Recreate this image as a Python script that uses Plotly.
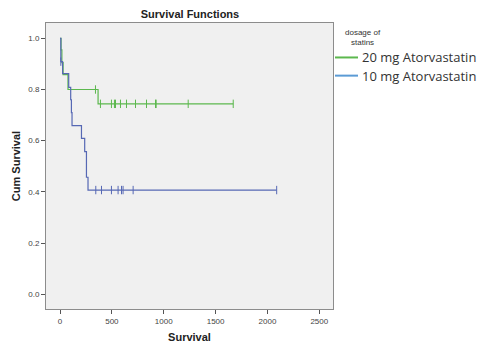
import numpy as np
import plotly.graph_objects as go

# ---- data ----
green_name = "20 mg Atorvastatin"
green_times = [0, 10, 18, 30, 77, 367]
green_surv = [1.0, 0.955, 0.905, 0.858, 0.80, 0.744]
green_censor = [342, 390, 496, 525, 535, 583, 641, 728, 834, 921, 927, 1236, 1670]

blue_name = "10 mg Atorvastatin"
blue_times = [0, 8, 25, 84, 103, 110, 116, 207, 238, 255, 270]
blue_surv = [1.0, 0.909, 0.862, 0.808, 0.760, 0.71, 0.659, 0.609, 0.557, 0.457, 0.407]
blue_censor = [8, 345, 400, 496, 560, 593, 608, 705, 2089]

x_ticks = [0, 500, 1000, 1500, 2000, 2500]
y_ticks = [0.0, 0.2, 0.4, 0.6, 0.8, 1.0]

GREEN = "#5cb84e"
BLUE_CURVE = "#5668b4"
BLUE_LEG = "#5b9bd5"


def step_value(times, surv, t):
    idx = np.searchsorted(np.array(times), t, side="right") - 1
    return surv[max(idx, 0)]


fig = go.Figure()
for times, surv, cens, col in [
    (green_times, green_surv, green_censor, GREEN),
    (blue_times, blue_surv, blue_censor, BLUE_CURVE),
]:
    end_t = max(cens[-1], times[-1])
    xs = list(times) + [end_t]
    ys = list(surv) + [surv[-1]]
    fig.add_trace(go.Scatter(x=xs, y=ys, mode="lines", line=dict(color=col, width=1.2, shape="hv"),
                             showlegend=False, hoverinfo="skip"))
    cy = [step_value(times, surv, t) for t in cens]
    fig.add_trace(go.Scatter(x=cens, y=cy, mode="markers",
                             marker=dict(symbol="line-ns-open", size=6, color=col,
                                         line=dict(color=col, width=1)),
                             showlegend=False, hoverinfo="skip"))

L, R, T, B = 46, 333, 23, 311
W, H = 486, 353


def px(p):
    return (p - L) / (R - L)


def py(q):
    return (B - q) / (B - T)


fig.update_layout(
    width=W, height=H,
    margin=dict(l=L, r=W - R, t=T, b=H - B),
    paper_bgcolor="white",
    plot_bgcolor="#f0f0f0",
    font=dict(family="Arial, Liberation Sans, sans-serif", color="#333"),
    title=dict(text="<b>Survival Functions</b>", x=px(190), xref="paper", xanchor="center",
               y=1 - 14.5 / H, yanchor="middle", font=dict(size=11, color="#222")),
    xaxis=dict(range=[-135, 2632], tickvals=x_ticks, ticktext=[str(v) for v in x_ticks],
               showgrid=False, zeroline=False, showline=True, linecolor="#8c8c8c", linewidth=1,
               mirror=True, ticks="outside", ticklen=4, tickcolor="#555",
               tickfont=dict(size=8, color="#444"),
               title=dict(text="<b>Survival</b>", font=dict(size=11, color="#222"), standoff=8)),
    yaxis=dict(range=[-0.058, 1.06], tickvals=y_ticks, ticktext=[f"{v:.1f}" for v in y_ticks],
               showgrid=False, zeroline=False, showline=True, linecolor="#8c8c8c", linewidth=1,
               mirror=True, ticks="outside", ticklen=4, tickcolor="#555",
               tickfont=dict(size=8, color="#444"),
               title=dict(text="<b>Cum Survival</b>", font=dict(size=11, color="#222"), standoff=5)),
)

# custom legend
fig.add_annotation(x=px(363), y=py(37.5), xref="paper", yref="paper", showarrow=False,
                   text="dosage of<br>statins", font=dict(size=8, color="#333"),
                   xanchor="center", yanchor="middle", align="center")
for name, col, yy in [(green_name, GREEN, 57.7), (blue_name, BLUE_LEG, 76.0)]:
    fig.add_shape(type="line", xref="paper", yref="paper", x0=px(335), x1=px(358),
                  y0=py(yy), y1=py(yy), line=dict(color=col, width=2))
    fig.add_annotation(x=px(360), y=py(yy), xref="paper", yref="paper", showarrow=False,
                       text=name, font=dict(size=13, color="#333", family="Open Sans, sans-serif"),
                       xanchor="left", yanchor="middle")

fig.write_html("out.html")
